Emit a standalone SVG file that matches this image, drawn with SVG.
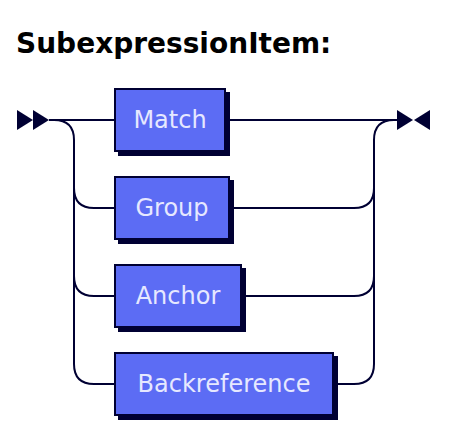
<svg xmlns="http://www.w3.org/2000/svg" width="460" height="440" viewBox="0 0 460 440">
<style>
.title{font-family:"DejaVu Sans",Verdana,sans-serif;font-weight:bold;font-size:28px;fill:#000000}
.box{fill:#5c6cf4;stroke:#000033;stroke-width:2}
.shadow{fill:#000033}
.label{font-family:"DejaVu Sans",Verdana,sans-serif;font-size:24px;fill:#e6e8ff;text-anchor:middle}
.line{fill:none;stroke:#000033;stroke-width:2}
.mark{fill:#000033}
</style>
<rect width="460" height="440" fill="#ffffff"/>
<text class="title" x="16" y="53">SubexpressionItem:</text>
<g id="connectors">
<polygon class="mark" points="17,110 33,120 17,130"/>
<polygon class="mark" points="33,110 49,120 33,130"/>
<path class="line" d="M49 120 H114"/>
<path class="line" d="M54 120 q20 0 20 20 V364 q0 20 20 20 H114"/>
<path class="line" d="M74 188 q0 20 20 20 H114"/>
<path class="line" d="M74 276 q0 20 20 20 H114"/>
<path class="line" d="M230 120 H397"/>
<path class="line" d="M234 208 H354 q20 0 20 -20"/>
<path class="line" d="M246 296 H354 q20 0 20 -20"/>
<path class="line" d="M338 384 H354 q20 0 20 -20 V140 q0 -20 20 -20"/>
<polygon class="mark" points="397,110 413,120 397,130"/>
<polygon class="mark" points="430,110 414,120 430,130"/>
</g>
<g id="match">
<rect class="shadow" x="118" y="92" width="112" height="64"/>
<rect class="box" x="115" y="89" width="110" height="62"/>
<text class="label" x="170" y="128">Match</text>
</g>
<g id="group">
<rect class="shadow" x="118" y="180" width="116" height="64"/>
<rect class="box" x="115" y="177" width="114" height="62"/>
<text class="label" x="172" y="216">Group</text>
</g>
<g id="anchor">
<rect class="shadow" x="118" y="268" width="128" height="64"/>
<rect class="box" x="115" y="265" width="126" height="62"/>
<text class="label" x="178" y="304">Anchor</text>
</g>
<g id="backreference">
<rect class="shadow" x="118" y="356" width="220" height="64"/>
<rect class="box" x="115" y="353" width="218" height="62"/>
<text class="label" x="224" y="392">Backreference</text>
</g>
</svg>
